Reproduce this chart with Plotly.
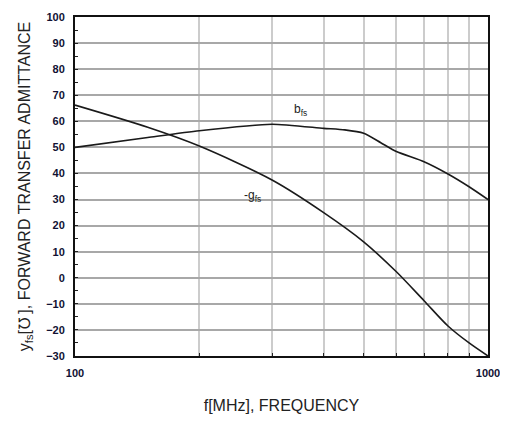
import plotly.graph_objects as go

freq_b = [100, 150, 200, 300, 400, 450, 500, 550, 600, 700, 800, 900, 1000]
b_fs = [50, 53.8, 56.4, 58.9, 57.3, 56.7, 55.4, 51.8, 48.4, 44.5, 39.8, 34.9, 30]

freq_g = [100, 150, 200, 300, 400, 500, 600, 700, 800, 900, 1000]
g_fs = [66.2, 57.7, 50.5, 37.5, 25.0, 13.8, 2.3, -8.8, -18.5, -25.0, -30]

x_tickvals = [100, 1000]
x_ticktext = ["100", "1000"]
x_minor = [200, 300, 400, 500, 600, 700, 800, 900]
y_tickvals = list(range(-30, 101, 10))
y_minor = list(range(-25, 100, 10))

fig = go.Figure()
fig.add_trace(go.Scatter(x=freq_b, y=b_fs, mode="lines",
                         line=dict(color="#1a1a1a", width=1.6, shape="spline", smoothing=0.6),
                         showlegend=False, hoverinfo="skip"))
fig.add_trace(go.Scatter(x=freq_g, y=g_fs, mode="lines",
                         line=dict(color="#1a1a1a", width=1.6, shape="spline", smoothing=0.8),
                         showlegend=False, hoverinfo="skip"))

font_tick = dict(family="Liberation Sans, Arial, sans-serif", size=11, color="#111133")
fig.update_layout(
    width=500, height=413,
    margin=dict(l=67, r=20, t=9, b=65, autoexpand=False),
    paper_bgcolor="white", plot_bgcolor="white",
    font=dict(family="Liberation Sans, Arial, sans-serif", color="#222222"),
    xaxis=dict(type="log", range=[2, 3], tickvals=x_tickvals, ticktext=x_ticktext,
               tickfont=dict(font_tick, weight="bold"), automargin=False,
               ticks="inside", ticklen=3, tickcolor="#222",
               minor=dict(tickvals=x_minor, ticks="inside", ticklen=3, tickcolor="#222",
                          showgrid=True, gridcolor="#cccccc", gridwidth=1.5),
               showgrid=True, gridcolor="#cccccc", gridwidth=1.5,
               showline=True, linecolor="#111", linewidth=2, mirror=True,
               ticklabelstandoff=6, zeroline=False,
               title=dict(text="f[MHz], FREQUENCY", font=dict(size=16, color="#222"), standoff=22)),
    yaxis=dict(range=[-30, 100], tickvals=y_tickvals,
               tickfont=dict(font_tick, weight="bold"), automargin=False,
               ticks="inside", ticklen=3, tickcolor="#222",
               minor=dict(tickvals=y_minor, ticks="inside", ticklen=3, tickcolor="#222", showgrid=False),
               showgrid=True, gridcolor="#a8a8a8", gridwidth=1.5,
               showline=True, linecolor="#111", linewidth=2, mirror=True,
               ticklabelstandoff=6, zeroline=False,
               title=dict(text="y<sub>fs</sub>[℧ ], FORWARD TRANSFER ADMITTANCE",
                          font=dict(size=16, color="#222"), standoff=12)),
)

fig.add_annotation(x=2.545, y=64.3, xref="x", yref="y", text="b<sub>fs</sub>", showarrow=False,
                   font=dict(size=12, color="#222"))
fig.add_annotation(x=2.43, y=31.3, xref="x", yref="y", text="-g<sub>fs</sub>", showarrow=False,
                   font=dict(size=12, color="#222"))

fig.write_html("out.html")
